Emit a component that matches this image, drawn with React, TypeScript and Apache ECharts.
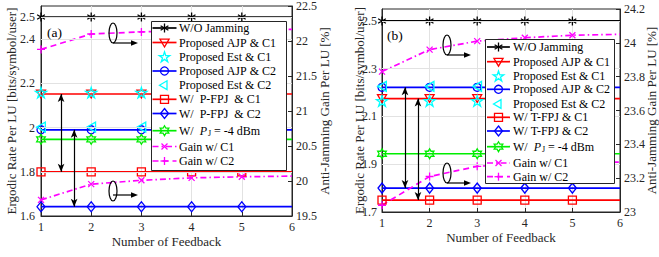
import { useEffect, useRef } from 'react';
import * as echarts from 'echarts';

// ---------------- data ----------------
const feedback = [1, 2, 3, 4, 5, 6];

// subplot (a)
const woJammingA = [2.5, 2.5, 2.5, 2.5, 2.5, 2.5];
const ajpC1A = [2.152, 2.152, 2.152, 2.152, 2.152, 2.152];
const estC1A = [2.158, 2.158, 2.158, 2.158, 2.158, 2.158];
const ajpC2A = [1.99, 1.99, 1.99, 1.99, 1.99, 1.99];
const estC2A = [2.002, 2.002, 2.002, 2.002, 2.002, 2.002];
const pfpjC1A = [1.8, 1.8, 1.8, 1.8, 1.8, 1.8];
const pfpjC2A = [1.642, 1.642, 1.642, 1.642, 1.642, 1.642];
const pjA = [1.947, 1.947, 1.947, 1.947, 1.947, 1.947];
const gainC1A = [19.73, 19.955, 20.01, 20.045, 20.06, 20.07];
const gainC2A = [21.88, 22.1, 22.13, 22.15, 22.16, 22.165];

// subplot (b)
const woJammingB = [2.5, 2.5, 2.5, 2.5, 2.5, 2.5];
const ajpC1B = [2.175, 2.175, 2.175, 2.175, 2.175, 2.175];
const estC1B = [2.165, 2.165, 2.165, 2.165, 2.165, 2.165];
const ajpC2B = [2.222, 2.222, 2.222, 2.222, 2.222, 2.222];
const estC2B = [2.226, 2.226, 2.226, 2.226, 2.226, 2.226];
const tfpjC1B = [1.75, 1.75, 1.75, 1.75, 1.75, 1.75];
const tfpjC2B = [1.8, 1.8, 1.8, 1.8, 1.8, 1.8];
const pjB = [1.944, 1.944, 1.944, 1.944, 1.944, 1.944];
const gainC1B = [23.83, 23.96, 24.01, 24.03, 24.045, 24.05];
const gainC2B = [23.04, 23.21, 23.27, 23.285, 23.29, 23.295];

// axes
const rateRangeA = [1.6, 2.55];
const gainRangeA = [19.5, 22.5];
const rateRangeB = [1.7, 2.55];
const gainRangeB = [23, 24.2];
const rateTicksA = [1.6, 1.8, 2, 2.2, 2.4, 2.5];
const gainTicksA = [19.5, 20, 20.5, 21, 21.5, 22, 22.5];
const rateTicksB = [1.7, 1.9, 2.1, 2.3, 2.5];
const gainTicksB = [23, 23.2, 23.4, 23.6, 23.8, 24, 24.2];
const rateGridA = [1.8, 2, 2.2, 2.4, 2.5];
const rateGridB = [1.9, 2.1, 2.3, 2.5];

// double-arrow annotations: [x, yFrom, yTo]
const arrowsA = [
  [1.4, 2.152, 1.8],
  [1.66, 1.99, 1.642],
];
const arrowsB = [
  [1.483, 2.222, 1.8],
  [1.756, 2.175, 1.75],
];

const PJ_NAME = 'W/ PJ = -4 dBm';

const seriesListA: [string, number[], string, 'L' | 'R'][] = [
  ['W/O Jamming', woJammingA, 'wo', 'L'],
  ['Proposed AJP & C1', ajpC1A, 'ajp1', 'L'],
  ['Proposed Est & C1', estC1A, 'est1', 'L'],
  ['Proposed AJP & C2', ajpC2A, 'ajp2', 'L'],
  ['Proposed Est & C2', estC2A, 'est2', 'L'],
  ['W/  P-FPJ  & C1', pfpjC1A, 'fpj1', 'L'],
  ['W/  P-FPJ  & C2', pfpjC2A, 'fpj2', 'L'],
  [PJ_NAME, pjA, 'pj', 'L'],
  ['Gain w/ C1', gainC1A, 'gain1', 'R'],
  ['Gain w/ C2', gainC2A, 'gain2', 'R'],
];
const seriesListB: [string, number[], string, 'L' | 'R'][] = [
  ['W/O Jamming', woJammingB, 'wo', 'L'],
  ['Proposed AJP & C1', ajpC1B, 'ajp1', 'L'],
  ['Proposed Est & C1', estC1B, 'est1', 'L'],
  ['Proposed AJP & C2', ajpC2B, 'ajp2', 'L'],
  ['Proposed Est & C2', estC2B, 'est2', 'L'],
  ['W/ T-FPJ & C1', tfpjC1B, 'fpj1', 'L'],
  ['W/ T-FPJ & C2', tfpjC2B, 'fpj2', 'L'],
  [PJ_NAME, pjB, 'pj', 'L'],
  ['Gain w/ C1', gainC1B, 'gain1', 'R'],
  ['Gain w/ C2', gainC2B, 'gain2', 'R'],
];

// ---------------- styles ----------------
const FONT = 'Liberation Serif';
const AXIS_COLOR = '#262626';
const GRID_COLOR = '#e2e2e2';

function starPts(cx: number, cy: number, points: number, r0: number, inner: number) {
  const pts: number[][] = [];
  for (let i = 0; i < points * 2; i++) {
    const r = i % 2 === 0 ? r0 : r0 * inner;
    const a = (-90 + (i * 180) / points) * (Math.PI / 180);
    pts.push([cx + r * Math.cos(a), cy + r * Math.sin(a)]);
  }
  return pts;
}
function starPath(points: number, inner: number) {
  return 'path://M' + starPts(0, 0, points, 1, inner).map((p) => p[0].toFixed(3) + ',' + p[1].toFixed(3)).join('L') + 'Z';
}
const ASTERISK = 'path://M0,-1L0,1M-0.866,-0.5L0.866,0.5M-0.866,0.5L0.866,-0.5';
const DOWN_TRI = 'path://M0,1L-0.866,-0.5L0.866,-0.5Z';
const LEFT_TRI = 'path://M-1,0L0.5,-0.866L0.5,0.866Z';
const CROSS_X = 'path://M-1,-1L1,1M-1,1L1,-1';
const PLUS = 'path://M0,-1L0,1M-1,0L1,0';
const PENTAGRAM = starPath(5, 0.382);
const HEXAGRAM = starPath(6, 0.577);

const STYLES: Record<string, any> = {
  wo: { color: '#000000', symbol: ASTERISK, size: 9, line: true, dash: 'solid' },
  ajp1: { color: '#ff0000', symbol: DOWN_TRI, size: 9, line: true, dash: 'solid' },
  est1: { color: '#00ffff', symbol: PENTAGRAM, size: 11, line: false, dash: 'solid' },
  ajp2: { color: '#0000ff', symbol: 'circle', size: 8, line: true, dash: 'solid' },
  est2: { color: '#00ffff', symbol: LEFT_TRI, size: 10, line: false, dash: 'solid' },
  fpj1: { color: '#ff0000', symbol: 'rect', size: 8, line: true, dash: 'solid' },
  fpj2: { color: '#0000ff', symbol: 'diamond', size: [8, 10], line: true, dash: 'solid' },
  pj: { color: '#00ee00', symbol: HEXAGRAM, size: 10, line: true, dash: 'solid' },
  gain1: { color: '#ff00ff', symbol: CROSS_X, size: 6, line: true, dash: [6, 3, 1.5, 3] },
  gain2: { color: '#ff00ff', symbol: PLUS, size: 8, line: true, dash: [6, 4] },
};

function buildSeries(list: [string, number[], string, 'L' | 'R'][], xi: number, yl: number, yr: number) {
  return list.map(([name, values, key, side]) => {
    const st = STYLES[key];
    return {
      type: 'line',
      name,
      xAxisIndex: xi,
      yAxisIndex: side === 'L' ? yl : yr,
      z: 3,
      silent: true,
      showSymbol: true,
      showAllSymbol: true,
      symbol: st.symbol,
      symbolSize: st.size,
      symbolKeepAspect: true,
      data: values.map((v, i) =>
        i < values.length - 1 ? [feedback[i], v] : { value: [feedback[i], v], symbol: 'none' }
      ),
      lineStyle: { color: st.color, width: st.line ? 1.7 : 0, type: st.dash, opacity: st.line ? 1 : 0 },
      itemStyle: { color: 'rgba(0,0,0,0)', borderColor: st.color, borderWidth: 1.3 },
      emphasis: { disabled: true },
    };
  });
}

function helperSeries(xi: number, yi: number, gridVals: number[], arrows: number[][]) {
  return [
    {
      type: 'line',
      name: '__grid' + xi,
      xAxisIndex: xi,
      yAxisIndex: yi,
      data: [],
      z: 1,
      silent: true,
      markLine: {
        silent: true,
        symbol: 'none',
        label: { show: false },
        lineStyle: { color: GRID_COLOR, width: 1, type: 'solid' },
        emphasis: { disabled: true },
        data: gridVals.map((v) => ({ yAxis: v })),
      },
    },
    {
      type: 'line',
      name: '__arrow' + xi,
      xAxisIndex: xi,
      yAxisIndex: yi,
      data: [],
      z: 5,
      silent: true,
      markLine: {
        silent: true,
        symbol: ['arrow', 'arrow'],
        symbolSize: [5, 8],
        label: { show: false },
        lineStyle: { color: '#000', width: 1.2, type: 'solid' },
        emphasis: { disabled: true },
        data: arrows.map(([x, y1, y2]) => [{ coord: [x, y1] }, { coord: [x, y2] }]),
      },
    },
  ];
}

const labelStyle = { fontFamily: FONT, fontSize: 12, color: AXIS_COLOR };
const nameStyle = { fontFamily: FONT, fontSize: 13, color: AXIS_COLOR };

function xAxis(gridIndex: number, nameGap: number) {
  return {
    type: 'value',
    gridIndex,
    min: feedback[0],
    max: feedback[feedback.length - 1],
    interval: 1,
    name: 'Number of Feedback',
    nameLocation: 'middle',
    nameGap,
    nameMoveOverlap: false,
    nameTextStyle: nameStyle,
    axisLine: { show: true, onZero: false, lineStyle: { color: AXIS_COLOR, width: 1 } },
    axisTick: { show: true, inside: true, length: 4, lineStyle: { color: AXIS_COLOR } },
    axisLabel: { ...labelStyle, margin: 5 },
    splitLine: { show: true, lineStyle: { color: GRID_COLOR, width: 1 } },
  };
}

function yAxis(gridIndex: number, position: string, range: number[], ticks: number[], name: string, nameGap: number, margin: number) {
  return {
    type: 'value',
    gridIndex,
    position,
    min: range[0],
    max: range[1],
    name,
    nameLocation: 'middle',
    nameRotate: 90,
    nameGap,
    nameMoveOverlap: false,
    nameTextStyle: nameStyle,
    axisLine: { show: true, onZero: false, lineStyle: { color: AXIS_COLOR, width: 1 } },
    axisTick: { show: true, inside: true, length: 4, customValues: ticks, lineStyle: { color: AXIS_COLOR } },
    axisLabel: { ...labelStyle, margin, customValues: ticks },
    splitLine: { show: false },
  };
}

// ---------------- annotations & legend (graphic) ----------------
const ZG = 20;
function rightArrow(x1: number, y: number, x2: number) {
  return [
    { type: 'line', z: ZG, shape: { x1, y1: y, x2: x2 - 5, y2: y }, style: { stroke: '#000', lineWidth: 1.2 }, silent: true },
    { type: 'polygon', z: ZG, shape: { points: [[x2, y], [x2 - 7, y - 2.8], [x2 - 7, y + 2.8]] }, style: { fill: '#000' }, silent: true },
  ];
}
function ellipse(cx: number, cy: number) {
  return { type: 'ellipse', z: ZG, shape: { cx, cy, rx: 4, ry: 10 }, style: { fill: 'none', stroke: '#000', lineWidth: 1.2 }, silent: true };
}

function legendMarker(key: string, cx: number, cy: number): any[] {
  const c = STYLES[key].color;
  const st = { fill: 'none', stroke: c, lineWidth: 1.3 };
  const z = ZG + 2;
  const ln = (x1: number, y1: number, x2: number, y2: number) => ({ type: 'line', z, shape: { x1, y1, x2, y2 }, style: st, silent: true });
  switch (key) {
    case 'wo': {
      const r = 4.5;
      return [
        ln(cx, cy - r, cx, cy + r),
        ln(cx - r * 0.866, cy - r * 0.5, cx + r * 0.866, cy + r * 0.5),
        ln(cx - r * 0.866, cy + r * 0.5, cx + r * 0.866, cy - r * 0.5),
      ];
    }
    case 'ajp1':
      return [{ type: 'polygon', z, shape: { points: [[cx, cy + 4.5], [cx - 4.6, cy - 3.3], [cx + 4.6, cy - 3.3]] }, style: st, silent: true }];
    case 'est1':
      return [{ type: 'polygon', z, shape: { points: starPts(cx, cy + 0.5, 5, 5.5, 0.382) }, style: st, silent: true }];
    case 'ajp2':
      return [{ type: 'circle', z, shape: { cx, cy, r: 4 }, style: st, silent: true }];
    case 'est2':
      return [{ type: 'polygon', z, shape: { points: [[cx - 5, cy], [cx + 2.5, cy - 4.4], [cx + 2.5, cy + 4.4]] }, style: st, silent: true }];
    case 'fpj1':
      return [{ type: 'rect', z, shape: { x: cx - 4, y: cy - 4, width: 8, height: 8 }, style: st, silent: true }];
    case 'fpj2':
      return [{ type: 'polygon', z, shape: { points: [[cx, cy - 5], [cx + 4, cy], [cx, cy + 5], [cx - 4, cy]] }, style: st, silent: true }];
    case 'pj':
      return [{ type: 'polygon', z, shape: { points: starPts(cx, cy, 6, 5, 0.577) }, style: st, silent: true }];
    case 'gain1':
      return [ln(cx - 3, cy - 3, cx + 3, cy + 3), ln(cx - 3, cy + 3, cx + 3, cy - 3)];
    case 'gain2':
      return [ln(cx, cy - 4, cx, cy + 4), ln(cx - 4, cy, cx + 4, cy)];
  }
  return [];
}

function legendGraphic(
  list: [string, number[], string, 'L' | 'R'][],
  box: number[],
  rows: number[],
  iconX: number[],
  textX: number
) {
  const els: any[] = [
    {
      type: 'rect',
      z: ZG,
      shape: { x: box[0] + 0.5, y: box[1] + 0.5, width: box[2] - box[0], height: box[3] - box[1] },
      style: { fill: '#ffffff', stroke: AXIS_COLOR, lineWidth: 1 },
      silent: true,
    },
  ];
  list.forEach(([name, , key], i) => {
    const st = STYLES[key];
    const y = rows[i];
    if (st.line) {
      els.push({
        type: 'line',
        z: ZG + 1,
        shape: { x1: iconX[0], y1: y, x2: iconX[1], y2: y },
        style: { stroke: st.color, lineWidth: 1.7, lineDash: Array.isArray(st.dash) ? st.dash : null },
        silent: true,
      });
    }
    els.push(...legendMarker(key, (iconX[0] + iconX[1]) / 2, y));
    const isPJ = name === PJ_NAME;
    els.push({
      type: 'text',
      z: ZG + 1,
      x: textX,
      y,
      silent: true,
      style: {
        text: isPJ ? 'W/  {i|P}{s|J} = -4 dBm' : name.replace(/ /g, '\u00a0'),
        fontFamily: FONT,
        fontSize: 12,
        fill: '#000',
        verticalAlign: 'middle',
        rich: {
          i: { fontFamily: FONT, fontSize: 12, fontStyle: 'italic', fill: '#000' },
          s: { fontFamily: FONT, fontSize: 8, fill: '#000', padding: [6, 0, 0, 1] },
        },
      },
    });
  });
  return els;
}

export default function App() {
  const ref = useRef<HTMLDivElement>(null);
  useEffect(() => {
    if (!ref.current) return;
    const chart = echarts.init(ref.current, null, { renderer: 'svg' });
    const option: any = {
      animation: false,
      backgroundColor: '#ffffff',
      textStyle: { fontFamily: FONT },
      grid: [
        { left: 41, top: 6, width: 251, height: 210, show: true, borderColor: AXIS_COLOR, borderWidth: 1, backgroundColor: '#fff', outerBoundsMode: 'none', containLabel: false },
        { left: 382, top: 9, width: 238, height: 203, show: true, borderColor: AXIS_COLOR, borderWidth: 1, backgroundColor: '#fff', outerBoundsMode: 'none', containLabel: false },
      ],
      xAxis: [xAxis(0, 19), xAxis(1, 19)],
      yAxis: [
        yAxis(0, 'left', rateRangeA, rateTicksA, 'Ergodic Rate Per LU [bits/symbol/user]', 23, 6),
        yAxis(0, 'right', gainRangeA, gainTicksA, 'Anti-Jamming Gain Per LU [%]', 25.5, 4),
        yAxis(1, 'left', rateRangeB, rateTicksB, 'Ergodic Rate Per LU [bits/symbol/user]', 16.5, 5),
        yAxis(1, 'right', gainRangeB, gainTicksB, 'Anti-Jamming Gain Per LU [%]', 25, 4),
      ],
      graphic: [
        { type: 'text', z: ZG, x: 47, y: 32, silent: true, style: { text: '(a)', fontFamily: FONT, fontSize: 13.5, fill: '#000', verticalAlign: 'middle' } },
        { type: 'text', z: ZG, x: 387, y: 35, silent: true, style: { text: '(b)', fontFamily: FONT, fontSize: 13.5, fill: '#000', verticalAlign: 'middle' } },
        ellipse(113, 33),
        ...rightArrow(113, 43, 138),
        ellipse(113, 191),
        ...rightArrow(113, 195, 138),
        ellipse(447, 45),
        ...rightArrow(447, 55, 471),
        ellipse(447, 173),
        ...rightArrow(447, 183, 471),
        ...legendGraphic(seriesListA, [151, 21, 286, 170], [28, 42.5, 56.8, 71, 85.2, 99.3, 113.5, 130.7, 146.5, 161], [152.5, 176.5], 179),
        ...legendGraphic(seriesListB, [485, 39, 614, 183], [47, 61.7, 76, 89.3, 104, 117.3, 131, 146.7, 163, 176.7], [487, 510], 513),
      ],
      series: [
        ...helperSeries(0, 0, rateGridA, arrowsA),
        ...helperSeries(1, 2, rateGridB, arrowsB),
        ...buildSeries(seriesListA, 0, 0, 1),
        ...buildSeries(seriesListB, 1, 2, 3),
      ],
    };
    chart.setOption(option);
    return () => chart.dispose();
  }, []);
  return <div ref={ref} style={{ position: 'absolute', left: 0, top: 0, width: 659, height: 257 }} />;
}
